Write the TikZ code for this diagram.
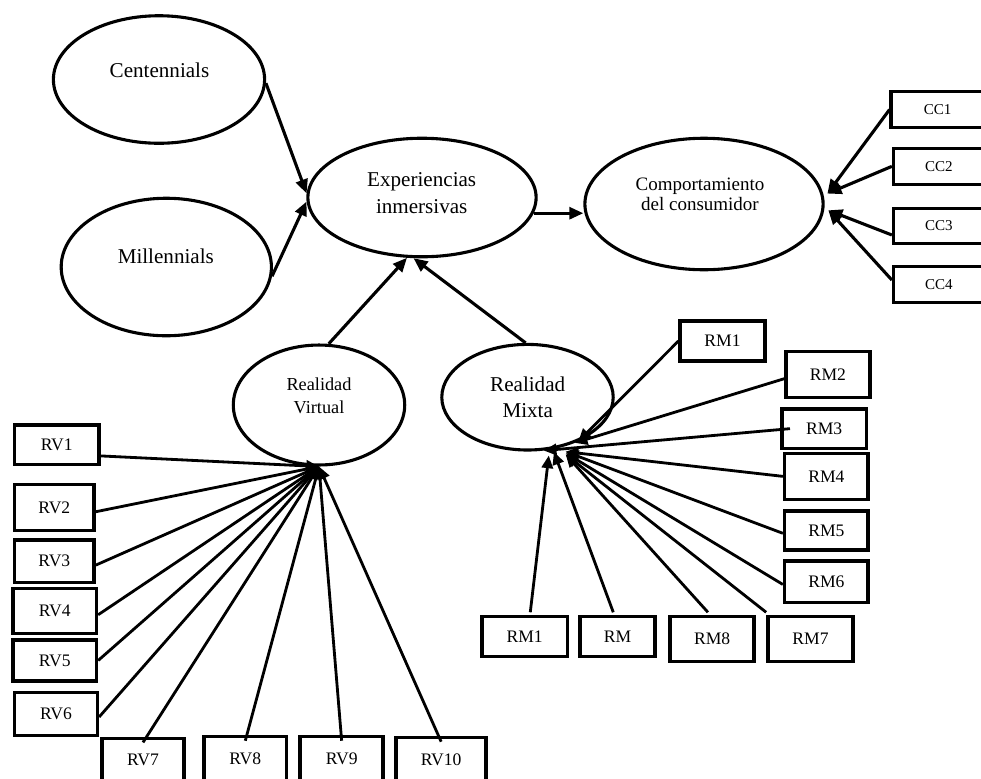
\documentclass[tikz,border=0pt]{standalone}
\usepackage{fontspec}
\setmainfont{Liberation Serif}
\usetikzlibrary{arrows.meta,shapes.geometric}
\newcommand\mybox[7][obs]{%
  \pgfmathsetmacro\bcx{(#3+#5)/2}%
  \pgfmathsetmacro\bcy{(#4+#6)/2}%
  \pgfmathsetmacro\bw{(#5-#3-3.4)*0.7087}%
  \pgfmathsetmacro\bh{(#6-#4-3.4)*0.7087}%
  \node[#1,minimum width=\bw pt,minimum height=\bh pt] (#2) at (\bcx,\bcy) {#7};}
\begin{document}
\begin{tikzpicture}[x=0.025cm,y=-0.025cm,
 lat/.style={ellipse,draw,line width=2.2pt,inner sep=0pt},
 lbl/.style={align=center,inner sep=0pt},
 big/.style={font=\fontsize{15}{19}\selectfont},
 obs/.style={draw,line width=2.4pt,inner sep=0pt,font=\fontsize{12.5}{15}\selectfont},
 ccbox/.style={obs,font=\fontsize{10.7}{13}\selectfont},
 arr/.style={line width=2.2pt,-{Triangle[length=10pt,width=8.5pt]}},
 fan/.style={line width=2pt,-{Triangle[length=9pt,width=8pt]}}]
\useasboundingbox (0,0) rectangle (981,778);
\clip (0,0) rectangle (981,778);
\fill[white] (0,0) rectangle (981,778);

% latent variables
\node[lat,minimum width=150.2pt,minimum height=90.7pt] (cen) at (159,79.5) {};
\node[lat,minimum width=149.5pt,minimum height=97.8pt] (mil) at (166.3,267) {};
\node[lat,minimum width=162.3pt,minimum height=84.3pt] (exp) at (422,197.5) {};
\node[lat,minimum width=169.4pt,minimum height=93.5pt] (comp) at (704,204) {};
\node[lat,minimum width=121.9pt,minimum height=85.3pt] (rv) at (319,405) {};
\node[lat,minimum width=121.9pt,minimum height=75.1pt] (rm) at (527.5,397.2) {};

\node[lbl,big] (cen-t) at (159.5,70) {Centennials};
\node[lbl,big] (mil-t) at (165.8,256.7) {Millennials};
\node[lbl,big] (exp-t) at (421.7,193.3) {Experiencias\\inmersivas};
\node[lbl,font=\fontsize{13.5}{14.5}\selectfont] (comp-t) at (700,194) {Comportamiento\\del consumidor};
\node[lbl,font=\fontsize{13}{16.5}\selectfont] (rv-t) at (319,395.7) {Realidad\\Virtual};
\node[lbl,font=\fontsize{15}{18}\selectfont] (rm-t) at (527.7,397.3) {Realidad\\Mixta};

% CC boxes
\mybox[ccbox]{cc1}{889.3}{90}{986}{129.3}{CC1}
\mybox[ccbox]{cc2}{891.7}{146.7}{986}{186}{CC2}
\mybox[ccbox]{cc3}{891.7}{206.7}{986}{245}{CC3}
\mybox[ccbox]{cc4}{891.7}{265}{986}{304}{CC4}

% RV boxes
\mybox{rv1}{12.7}{423.3}{100.7}{466}{RV1}
\mybox{rv2}{12.7}{482.7}{96}{532.3}{RV2}
\mybox{rv3}{12.7}{538.3}{96}{584}{RV3}
\mybox{rv4}{11}{586.7}{98.3}{635}{RV4}
\mybox{rv5}{11}{638.3}{98.3}{682.7}{RV5}
\mybox{rv6}{12.7}{691}{99.3}{737.3}{RV6}
\mybox{rv7}{100}{736.7}{186}{783}{RV7}
\mybox{rv8}{202.3}{735}{288.3}{783}{RV8}
\mybox{rv9}{298.3}{735}{385}{783}{RV9}
\mybox{rv10}{394.3}{736}{488}{783}{RV10}

% RM boxes
\mybox{rmt}{678.3}{319.3}{766.7}{362.7}{RM1}
\mybox{rm2}{784}{350}{871.7}{399}{RM2}
\mybox{rm3}{780}{407.3}{868.3}{450}{RM3}
\mybox{rm4}{782.7}{451.7}{870}{501}{RM4}
\mybox{rm5}{782.7}{509.3}{870}{551.7}{RM5}
\mybox{rm6}{782.7}{559.3}{870}{604}{RM6}
\mybox{rmb1}{480}{615}{569.3}{658.3}{RM1}
\mybox{rmx}{578.3}{615}{656.7}{658.3}{RM}
\mybox{rm8}{668.3}{615}{756}{663.3}{RM8}
\mybox{rm7}{766}{615}{855}{663.3}{RM7}

% structural arrows
\draw[arr] (cen.-2) -- (exp.178);
\draw[arr] (mil.-5) -- (exp.182);
\draw[arr] (exp.-8) -- (exp.-8 -| comp.west);
\draw[arr] (rv.81) -- (exp.256);
\draw[arr] (rm.92) -- (exp.262);

% CC indicators
\draw[arr] (cc1.west) -- ([xshift=3pt]comp.5);
\draw[arr] (cc2.west) -- ([xshift=3pt]comp.5);
\draw[arr] ([yshift=-6.5pt]cc3.west) -- ([xshift=3pt]comp.-3);
\draw[arr] ([yshift=3.2pt]cc4.west) -- ([xshift=3pt]comp.-3);

% RV indicators
\draw[fan] ([yshift=-8pt]rv1.east) -- (rv.south);
\draw[fan] ([yshift=-3pt]rv2.east) -- (rv.south);
\draw[fan] ([yshift=-2.8pt]rv3.east) -- (rv.south);
\draw[fan] ([yshift=-2.8pt]rv4.east) -- (rv.south);
\draw[fan] (rv5.east) -- (rv.south);
\draw[fan] ([yshift=-2pt]rv6.east) -- (rv.south);
\draw[fan] ([yshift=-4pt]rv7.north) -- (rv.south);
\draw[fan] ([yshift=-4pt]rv8.north) -- (rv.south);
\draw[fan] ([yshift=-4pt]rv9.north) -- (rv.south);
\draw[fan] ([yshift=-4pt]rv10.north) -- (rv.south);

% RM indicators
\draw[fan] (rmt.west) -- (rm.-41);
\draw[fan] ([yshift=-3pt]rm2.west) -- (rm.-44);
\draw[fan] ([xshift=7pt]rm3.west) -- (rm.-73);
\draw[fan] (rm4.west) -- ([yshift=-4pt]rm.-52);
\draw[fan] ([yshift=-2pt]rm5.west) -- ([yshift=-4pt]rm.-52);
\draw[fan] ([yshift=-2pt]rm6.west) -- ([yshift=-5pt]rm.-52);
\draw[fan] ([xshift=4pt,yshift=2pt]rmb1.north) -- ([yshift=-4pt]rm.-68);
\draw[fan] ([xshift=-3pt,yshift=2pt]rmx.north) -- ([yshift=-2pt]rm.-63);
\draw[fan] ([xshift=-3pt,yshift=2pt]rm8.north) -- ([yshift=-6pt]rm.-52);
\draw[fan] ([yshift=2pt]rm7.north west) -- ([yshift=-6pt]rm.-52);
\end{tikzpicture}
\end{document}
